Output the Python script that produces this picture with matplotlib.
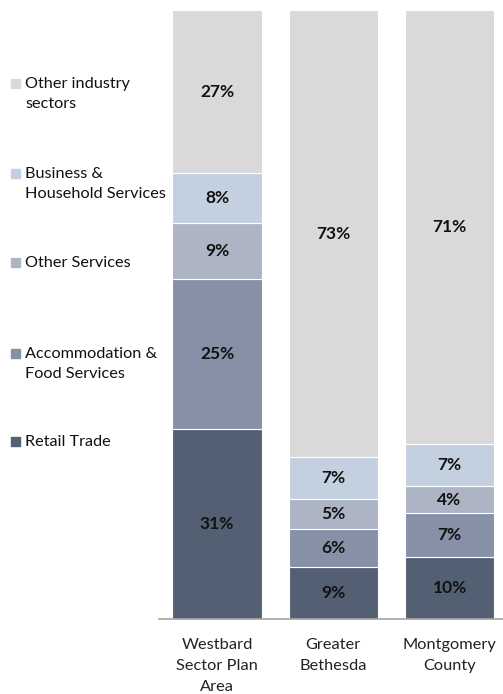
import numpy as np
import matplotlib.pyplot as plt
from matplotlib.patches import Rectangle

plt.rcParams['font.family'] = ['Lato', 'DejaVu Sans']

areas = ['Westbard\nSector Plan\nArea', 'Greater\nBethesda', 'Montgomery\nCounty']
sectors = ['Retail Trade', 'Accommodation &\nFood Services', 'Other Services',
           'Business &\nHousehold Services', 'Other industry\nsectors']
retail = [31.2, 8.6, 10.2]
accommodation = [24.6, 6.1, 7.2]
other_services = [9.2, 5.0, 4.4]
business = [8.2, 6.9, 6.9]
other_industry = [26.8, 73.4, 71.3]
colors = ['#536073', '#8691a8', '#adb5c4', '#c3d0e0', '#d9d9d9']

series = np.array([retail, accommodation, other_services, business, other_industry])

W, H = 503, 694
fig = plt.figure(figsize=(W / 100, H / 100), dpi=100)
ax = fig.add_axes([159 / W, 75 / H, (W - 159) / W, (619 - 10) / H])

x = np.arange(len(areas))
bottom = np.zeros(len(areas))
for vals, color in zip(series, colors):
    ax.bar(x, vals, width=0.77, bottom=bottom, color=color,
           edgecolor='white', linewidth=0.8)
    for xi, b, v in zip(x, bottom, vals):
        ax.text(xi, b + v / 2, f'{round(v)}%', ha='center', va='center',
                fontsize=12.5, fontweight='bold', color='#111111')
    bottom += vals

ax.set_xlim(-0.5, 2.46)
ax.set_ylim(0, 100)
for s in ['top', 'right', 'left']:
    ax.spines[s].set_visible(False)
ax.spines['bottom'].set_color('#a6a6a6')
ax.spines['bottom'].set_linewidth(1.2)
ax.set_yticks([])
ax.set_xticks(x)
ax.set_xticklabels(areas, fontsize=11.8, color='#222222', linespacing=1.62)
ax.tick_params(axis='x', length=0, pad=14)

# hand-placed legend on the left, top entry first
legend_y = [83, 173, 262, 353, 441]
for name, color, yy in zip(sectors[::-1], colors[::-1], legend_y):
    fig.patches.append(Rectangle((11 / W, 1 - (yy + 5) / H), 9 / W, 9 / H,
                                 transform=fig.transFigure, color=color))
    fig.text(25 / W, 1 - (yy - 6) / H, name, ha='left', va='top',
             fontsize=11.7, color='#111111', linespacing=1.5)

fig.savefig('out.png', dpi=100)
